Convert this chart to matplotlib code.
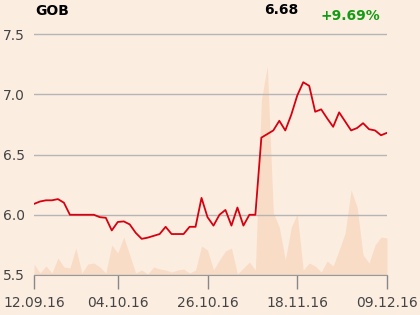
import matplotlib
matplotlib.use('Agg')
import matplotlib.pyplot as plt

# closing prices, one per trading day (12.09.16 .. 09.12.16)
prices = [6.09, 6.11, 6.12, 6.12, 6.13, 6.10, 6.00, 6.00, 6.00, 6.00,
          6.00, 5.98, 5.975, 5.87, 5.94, 5.945, 5.92, 5.85, 5.80, 5.81,
          5.825, 5.84, 5.90, 5.84, 5.84, 5.84, 5.90, 5.90, 6.14, 5.98,
          5.91, 6.00, 6.04, 5.91, 6.06, 5.91, 6.00, 6.00, 6.64, 6.67,
          6.70, 6.78, 6.70, 6.83, 6.99, 7.10, 7.07, 6.855, 6.875, 6.80,
          6.73, 6.85, 6.775, 6.70, 6.72, 6.76, 6.71, 6.70, 6.66, 6.68]

# traded volume (relative units)
volumes = [11, 2, 9, 2, 17, 8, 7, 27, 2, 11,
           12, 8, 2, 30, 22, 38, 20, 2, 5, 1,
           8, 6, 5, 3, 5, 6, 2, 5, 29, 25,
           5, 15, 24, 27, 1, 7, 13, 5, 175, 209,
           62, 48, 15, 48, 61, 5, 12, 9, 3, 14,
           9, 25, 42, 85, 68, 20, 12, 30, 38, 37]

tick_pos = [0, 14, 29, 44, 59]
tick_labels = ['12.09.16', '04.10.16', '26.10.16', '18.11.16', '09.12.16']
y_ticks = [5.5, 6.0, 6.5, 7.0, 7.5]

bg = '#fcede1'
x = list(range(len(prices)))

fig = plt.figure(figsize=(4.2, 3.15), dpi=100, facecolor=bg)
ax = fig.add_axes([34/420, 40/315, 353/420, 253/315])
axv = ax.twinx()

# volume area behind the price line
axv.fill_between(x, 0, volumes, color='#f9dcc6', lw=0)
axv.set_ylim(0, 253)
axv.set_yticks([])
axv.set_facecolor(bg)
for s in axv.spines.values():
    s.set_visible(False)

ax.set_zorder(axv.get_zorder() + 1)
ax.patch.set_visible(False)
ax.plot(x, prices, color='#d7000f', lw=1.3)
ax.set_xlim(0, 59)
ax.set_ylim(5.5, 7.6)
ax.set_yticks(y_ticks)
ax.set_yticklabels(['%.1f' % v for v in y_ticks])
ax.grid(axis='y', color='#b5b5b5', lw=1)
ax.set_xticks(tick_pos)
ax.set_xticklabels(tick_labels)
ax.tick_params(axis='y', length=0, pad=6.5, labelsize=10, labelcolor='#444444')
ax.tick_params(axis='x', length=10, width=1, color='#888888', pad=5,
               labelsize=10, labelcolor='#444444')
for k in ['top', 'right', 'left']:
    ax.spines[k].set_visible(False)
ax.spines['bottom'].set_color('#999999')

fig.text(35/420, 1 - 11/315, 'GOB', fontsize=10, fontweight='bold', va='center')
fig.text(298/420, 1 - 10/315, '%.2f' % prices[-1], fontsize=10,
         fontweight='bold', ha='right', va='center')
fig.text(380/420, 1 - 16/315, '+9.69%', fontsize=10, fontweight='bold',
         color='#139c13', ha='right', va='center')

fig.savefig('out.png', dpi=100, facecolor=bg)
